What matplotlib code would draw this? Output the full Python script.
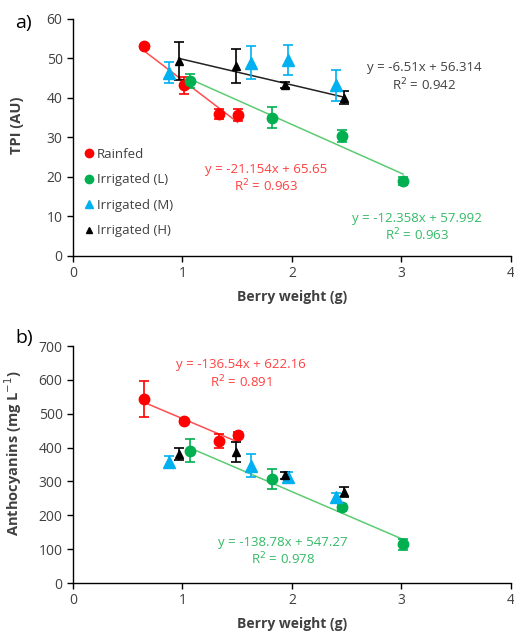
import matplotlib.pyplot as plt

plt.rcParams['font.family'] = ['Open Sans', 'DejaVu Sans']

# Panel a: TPI (AU) vs berry weight (g)
rain_x = [0.645, 1.014, 1.333, 1.504]
rain_tpi = [53.2, 43.2, 36.0, 35.6]
rain_tpi_err = [0.0, 2.2, 1.3, 1.5]
low_x = [1.068, 1.814, 2.460, 3.014]
low_tpi = [44.3, 35.0, 30.4, 19.0]
low_tpi_err = [1.8, 2.6, 1.6, 1.0]
med_x = [0.880, 1.630, 1.967, 2.405]
med_tpi = [46.4, 48.9, 49.5, 43.2]
med_tpi_err = [2.6, 4.2, 3.8, 3.9]
high_x = [0.965, 1.490, 1.933, 2.475]
high_tpi = [49.3, 48.1, 43.2, 40.1]
high_tpi_err = [4.8, 4.3, 0.8, 1.6]

# Panel b: anthocyanins (mg/L) vs berry weight (g)
rain_ant = [543.7, 479.8, 418.9, 437.6]
rain_ant_err = [53, 6, 20, 8]
low_ant = [390, 307.8, 224, 114]
low_ant_err = [34, 29, 10, 15]
med_ant = [357, 347, 314.6, 252.7]
med_ant_err = [17, 33, 12, 12]
high_ant = [381.5, 387.4, 318.6, 270]
high_ant_err = [18, 30, 10, 15]

# fitted trend lines (slope, intercept, R2)
fit_a = {"rain": (-21.154, 65.65, 0.963), "low": (-12.358, 57.992, 0.963),
         "high": (-6.51, 56.314, 0.942)}
fit_b = {"rain": (-136.54, 622.16, 0.891), "low": (-138.78, 547.27, 0.978)}

RED = '#FF0000'
GREEN = '#00B050'
BLUE = '#00B0F0'
BLACK = '#000000'
TXT = '#404040'

fig = plt.figure(figsize=(5.14, 6.32), dpi=100)
ax_a = fig.add_axes([0.142, 0.595, 0.852, 0.375])
ax_b = fig.add_axes([0.142, 0.0775, 0.852, 0.375])


def serie(ax, x, y, err, color, marker, ms, label=None):
    ax.errorbar(x, y, yerr=err, fmt=marker, color=color, ms=ms, mec=color,
                ecolor=color, elinewidth=1.2, capsize=3.5, capthick=1.2,
                label=label, zorder=3)


def trend(ax, x, fit, color):
    m, b, _ = fit
    xs = [min(x), max(x)]
    ax.plot(xs, [m * v + b for v in xs], color=color, lw=1.1, zorder=2)


def equation(ax, x, y1, y2, fit, color):
    m, b, r2 = fit
    sign = '+' if b >= 0 else '-'
    ax.text(x, y1, f"y = {m:g}x {sign} {abs(b):g}", color=color, fontsize=9.5,
            ha='center', va='center')
    ax.text(x, y2, f"R$^2$ = {r2:.3f}", color=color, fontsize=9.5,
            ha='center', va='center')


def estilo(ax, ymax, ystep, ylabel, label_y):
    ax.set_xlim(0, 4)
    ax.set_ylim(0, ymax)
    ax.set_xticks([0, 1, 2, 3, 4])
    ax.set_yticks(range(0, ymax + 1, ystep))
    ax.spines['top'].set_visible(False)
    ax.spines['right'].set_visible(False)
    for s in ['left', 'bottom']:
        ax.spines[s].set_linewidth(1.0)
    ax.tick_params(direction='out', length=4, width=1.0, labelsize=10,
                   labelcolor=TXT)
    ax.set_xlabel('Berry weight (g)', fontsize=10, fontweight='bold',
                  color=TXT, labelpad=6)
    ax.set_ylabel(ylabel, fontsize=10.5, fontweight='bold', color=TXT)
    ax.yaxis.set_label_coords(-0.112, label_y)
    ax.patch.set_alpha(0)


# ---- panel a ----
trend(ax_a, rain_x, fit_a["rain"], '#FF4D4D')
trend(ax_a, low_x, fit_a["low"], '#5CCB72')
trend(ax_a, high_x, fit_a["high"], '#222222')
serie(ax_a, rain_x, rain_tpi, rain_tpi_err, RED, 'o', 7.5, 'Rainfed')
serie(ax_a, low_x, low_tpi, low_tpi_err, GREEN, 'o', 7.5, 'Irrigated (L)')
serie(ax_a, med_x, med_tpi, med_tpi_err, BLUE, '^', 8, 'Irrigated (M)')
serie(ax_a, high_x, high_tpi, high_tpi_err, BLACK, '^', 6, 'Irrigated (H)')
equation(ax_a, 3.21, 47.6, 43.3, fit_a["high"], TXT)
equation(ax_a, 1.76, 22.0, 17.7, fit_a["rain"], '#FF4040')
equation(ax_a, 3.14, 9.6, 5.3, fit_a["low"], '#33BB66')
estilo(ax_a, 60, 10, 'TPI (AU)', 0.553)
handles, labels = ax_a.get_legend_handles_labels()
handles = [h[0] for h in handles]
ax_a.legend(handles, labels, loc='lower left', bbox_to_anchor=(0.0, 0.04),
            frameon=False, fontsize=9.5, handletextpad=0.1, handlelength=1.0,
            labelspacing=0.95, labelcolor=TXT, borderaxespad=0.3,
            markerscale=0.8)
fig.text(0.03, 0.963, 'a)', fontsize=14, color=BLACK, va='center')

# ---- panel b ----
trend(ax_b, rain_x, fit_b["rain"], '#FF4D4D')
trend(ax_b, low_x, fit_b["low"], '#5CCB72')
serie(ax_b, rain_x, rain_ant, rain_ant_err, RED, 'o', 7.5)
serie(ax_b, low_x, low_ant, low_ant_err, GREEN, 'o', 7.5)
serie(ax_b, med_x, med_ant, med_ant_err, BLUE, '^', 8)
serie(ax_b, high_x, high_ant, high_ant_err, BLACK, '^', 6)
equation(ax_b, 1.53, 644, 594, fit_b["rain"], '#FF4040')
equation(ax_b, 1.92, 121, 71, fit_b["low"], '#33BB66')
estilo(ax_b, 700, 100, 'Anthocyanins (mg L$^{-1}$)', 0.549)
fig.text(0.03, 0.465, 'b)', fontsize=14, color=BLACK, va='center')

fig.savefig('out.png', dpi=100)
